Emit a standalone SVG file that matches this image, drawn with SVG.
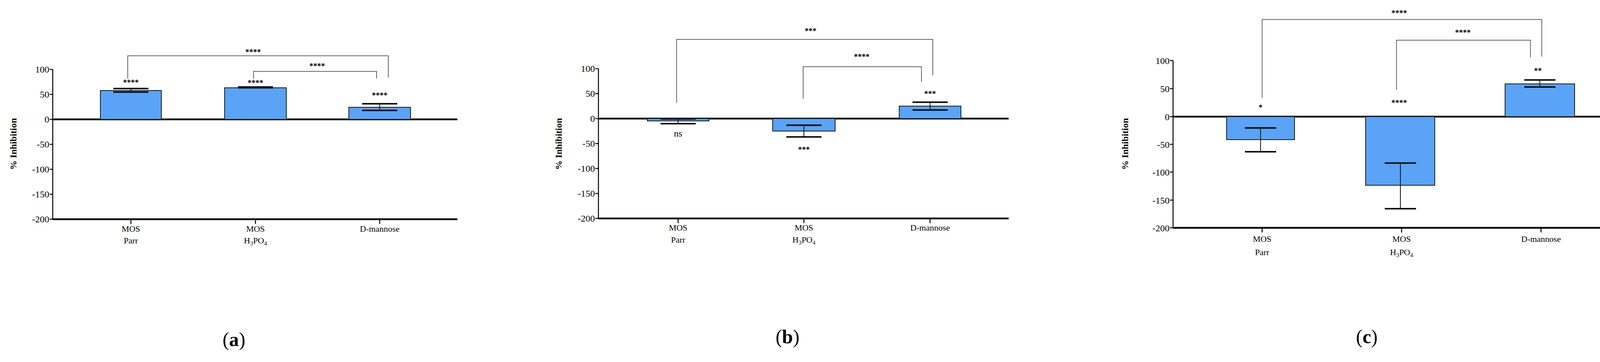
<svg xmlns="http://www.w3.org/2000/svg" width="4186" height="928" viewBox="0 0 4186 928">
<style>
text{font-family:"Liberation Serif",serif;fill:#000}
.tk{font-size:24px;text-anchor:end}
.cat{font-size:22px;text-anchor:middle}
.st{font-size:20px;text-anchor:middle;font-weight:bold}
.yl{font-size:24px;font-weight:bold;text-anchor:middle}
.pl{font-size:50px;text-anchor:middle}
.bar{fill:#5aa3f7;stroke:#1a1a1a;stroke-width:2}
.ax{stroke:#000;stroke-width:2.5;fill:none}
.zx{stroke:#000;stroke-width:4.5;fill:none}
.er{stroke:#111;stroke-width:2;fill:none}
.cap{stroke:#111;stroke-width:4;fill:none}
.br{stroke:#333;stroke-width:1.5;fill:none}
</style>
<rect width="4186" height="928" fill="#fff"/>

<!-- Panel a -->
<g id="panel-a">
<path class="ax" d="M135 178V562M127 178H135M127 242H135M127 306H135M127 370H135M127 434H135M127 498H135M127 562H135M335 562V574M654 562V574M972 562V574"/>
<path class="zx" d="M135 306H1171M135 562H1171"/>
<text class="tk" x="126" y="186">100</text><text class="tk" x="126" y="250">50</text><text class="tk" x="126" y="314">0</text>
<text class="tk" x="126" y="378">-50</text><text class="tk" x="126" y="442">-100</text><text class="tk" x="126" y="506">-150</text><text class="tk" x="126" y="570">-200</text>
<text class="yl" transform="translate(42 369) rotate(-90)">% Inhibition</text>
<rect class="bar" x="257" y="232" width="156" height="74"/>
<rect class="bar" x="575" y="225" width="158" height="81"/>
<rect class="bar" x="893" y="275" width="158" height="31"/>
<path class="er" d="M335 236V227M654 225V223M972 283V266"/>
<path class="cap" d="M290 236H380M290 227H380M609 225H699M609 223H699M927 283H1017M927 266H1017"/>
<text class="st" x="335" y="218">****</text><text class="st" x="654" y="219">****</text><text class="st" x="972" y="251">****</text>
<text class="cat" x="335" y="594">MOS</text><text class="cat" x="335" y="624">Parr</text>
<text class="cat" x="654" y="594">MOS</text><text class="cat" x="654" y="624">H<tspan font-size="15" dy="5">3</tspan><tspan dy="-5">PO</tspan><tspan font-size="15" dy="5">4</tspan></text>
<text class="cat" x="972" y="594">D-mannose</text>
<text class="pl" x="599" y="887">(<tspan font-weight="bold">a</tspan>)</text>
</g>

<!-- Panel b -->
<g id="panel-b">
<path class="ax" d="M1532 176V560M1524 176H1532M1524 240H1532M1524 304H1532M1524 368H1532M1524 432H1532M1524 496H1532M1524 560H1532M1736 560V572M2058 560V572M2381 560V572"/>
<path class="zx" d="M1532 304H2582M1532 560H2582"/>
<text class="tk" x="1523" y="184">100</text><text class="tk" x="1523" y="248">50</text><text class="tk" x="1523" y="312">0</text>
<text class="tk" x="1523" y="376">-50</text><text class="tk" x="1523" y="440">-100</text><text class="tk" x="1523" y="504">-150</text><text class="tk" x="1523" y="568">-200</text>
<text class="yl" transform="translate(1438 369) rotate(-90)">% Inhibition</text>
<rect class="bar" x="1657" y="304" width="158" height="6"/>
<rect class="bar" x="1978" y="304" width="160" height="32"/>
<rect class="bar" x="2302" y="272" width="158" height="32"/>
<path class="er" d="M1736 305V317M2058 321V351M2381 282V262"/>
<path class="cap" d="M1691 305H1781M1691 317H1781M2013 321H2103M2013 351H2103M2336 282H2426M2336 262H2426"/>
<text font-size="24" text-anchor="middle" x="1736" y="350">ns</text>
<text class="st" x="2058" y="390">***</text><text class="st" x="2381" y="247">***</text>
<text class="cat" x="1736" y="591">MOS</text><text class="cat" x="1736" y="622">Parr</text>
<text class="cat" x="2058" y="591">MOS</text><text class="cat" x="2058" y="622">H<tspan font-size="15" dy="5">3</tspan><tspan dy="-5">PO</tspan><tspan font-size="15" dy="5">4</tspan></text>
<text class="cat" x="2381" y="591">D-mannose</text>
<text class="pl" x="2016" y="880">(<tspan font-weight="bold">b</tspan>)</text>
</g>

<!-- Panel c -->
<g id="panel-c">
<path class="ax" d="M3003 155V584M2995 155H3003M2995 227H3003M2995 299H3003M2995 370H3003M2995 441H3003M2995 513H3003M2995 584H3003M3231 584V596M3588 584V596M3945 584V596"/>
<path class="zx" d="M3003 299H4165M3003 584H4165"/>
<text class="tk" x="2994" y="164">100</text><text class="tk" x="2994" y="236">50</text><text class="tk" x="2994" y="308">0</text>
<text class="tk" x="2994" y="379">-50</text><text class="tk" x="2994" y="450">-100</text><text class="tk" x="2994" y="522">-150</text><text class="tk" x="2994" y="593">-200</text>
<text class="yl" transform="translate(2888 369) rotate(-90)">% Inhibition</text>
<rect class="bar" x="3140" y="299" width="174" height="59"/>
<rect class="bar" x="3496" y="299" width="177" height="176"/>
<rect class="bar" x="3853" y="215" width="178" height="84"/>
<path class="er" d="M3227 328V389M3585 418V535M3942 223V205"/>
<path class="cap" d="M3187 328H3267M3187 389H3267M3545 418H3625M3545 535H3625M3902 223H3982M3902 205H3982"/>
<text class="st" x="3227" y="282">*</text><text class="st" x="3582" y="270">****</text><text class="st" x="3937" y="188">**</text>
<text class="cat" x="3231" y="620">MOS</text><text class="cat" x="3231" y="654">Parr</text>
<text class="cat" x="3588" y="620">MOS</text><text class="cat" x="3588" y="654">H<tspan font-size="15" dy="5">3</tspan><tspan dy="-5">PO</tspan><tspan font-size="15" dy="5">4</tspan></text>
<text class="cat" x="3945" y="620">D-mannose</text>
<text class="pl" x="3499" y="880">(<tspan font-weight="bold">c</tspan>)</text>
</g>

<!-- Connectors (significance brackets) -->
<g id="connectors">
<path class="br" d="M327 202V143H994V199"/>
<path class="br" d="M649 202V183H964V201"/>
<path class="br" d="M1732 263V101H2388V193"/>
<path class="br" d="M2056 253V171H2359V210"/>
<path class="br" d="M3231 250V50H3947V145"/>
<path class="br" d="M3575 230V103H3918V147"/>
<text class="st" x="648" y="140">****</text>
<text class="st" x="812" y="176">****</text>
<text class="st" x="2075" y="86">***</text>
<text class="st" x="2206" y="152">****</text>
<text class="st" x="3582" y="40">****</text>
<text class="st" x="3745" y="90">****</text>
</g>
</svg>
